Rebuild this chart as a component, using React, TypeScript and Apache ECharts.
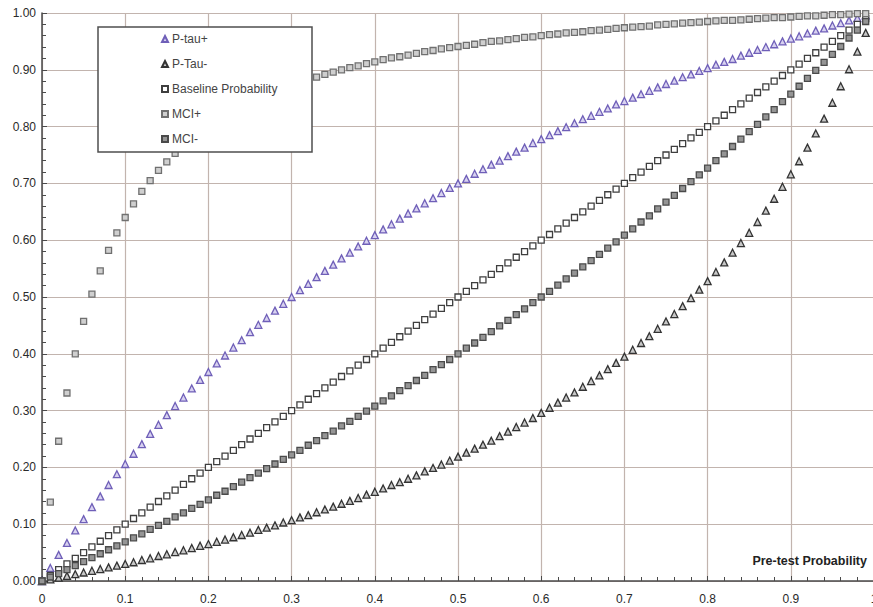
import React, { useEffect, useRef } from "react";
import * as echarts from "echarts";

const pretest = [0,0.01,0.02,0.03,0.04,0.05,0.06,0.07,0.08,0.09,0.1,0.11,0.12,0.13,0.14,0.15,0.16,0.17,0.18,0.19,0.2,0.21,0.22,0.23,0.24,0.25,0.26,0.27,0.28,0.29,0.3,0.31,0.32,0.33,0.34,0.35,0.36,0.37,0.38,0.39,0.4,0.41,0.42,0.43,0.44,0.45,0.46,0.47,0.48,0.49,0.5,0.51,0.52,0.53,0.54,0.55,0.56,0.57,0.58,0.59,0.6,0.61,0.62,0.63,0.64,0.65,0.66,0.67,0.68,0.69,0.7,0.71,0.72,0.73,0.74,0.75,0.76,0.77,0.78,0.79,0.8,0.81,0.82,0.83,0.84,0.85,0.86,0.87,0.88,0.89,0.9,0.91,0.92,0.93,0.94,0.95,0.96,0.97,0.98,0.99];

const pTauPlus = [0,.023,.046,.067,.089,.109,.130,.149,.169,.188,.206,.224,.241,.259,.275,.292,.308,.323,.339,.354,.368,.383,.397,.411,.424,.438,.451,.463,.476,.488,.500,.512,.523,.535,.546,.557,.568,.578,.589,.599,.609,.619,.628,.638,.647,.656,.665,.674,.683,.692,.700,.708,.717,.725,.733,.740,.748,.756,.763,.771,.778,.785,.792,.799,.806,.813,.819,.826,.832,.839,.845,.851,.857,.863,.869,.875,.881,.887,.892,.898,.903,.909,.914,.919,.925,.930,.935,.940,.945,.950,.955,.959,.964,.969,.973,.978,.982,.987,.991,.996];

const pTauMinus = [0,.003,.006,.009,.012,.015,.018,.021,.024,.027,.030,.033,.037,.040,.044,.047,.051,.054,.058,.062,.065,.069,.073,.077,.081,.085,.090,.094,.098,.103,.107,.112,.116,.121,.126,.131,.136,.141,.146,.152,.157,.163,.169,.174,.180,.186,.193,.199,.205,.212,.219,.226,.233,.240,.247,.255,.263,.271,.279,.287,.296,.305,.314,.323,.332,.342,.352,.362,.373,.384,.395,.407,.419,.431,.444,.457,.470,.484,.498,.513,.528,.544,.561,.578,.595,.613,.632,.652,.673,.694,.716,.739,.763,.788,.814,.842,.871,.901,.932,.965];

const baseline = [0,0.01,0.02,0.03,0.04,0.05,0.06,0.07,0.08,0.09,0.1,0.11,0.12,0.13,0.14,0.15,0.16,0.17,0.18,0.19,0.2,0.21,0.22,0.23,0.24,0.25,0.26,0.27,0.28,0.29,0.3,0.31,0.32,0.33,0.34,0.35,0.36,0.37,0.38,0.39,0.4,0.41,0.42,0.43,0.44,0.45,0.46,0.47,0.48,0.49,0.5,0.51,0.52,0.53,0.54,0.55,0.56,0.57,0.58,0.59,0.6,0.61,0.62,0.63,0.64,0.65,0.66,0.67,0.68,0.69,0.7,0.71,0.72,0.73,0.74,0.75,0.76,0.77,0.78,0.79,0.8,0.81,0.82,0.83,0.84,0.85,0.86,0.87,0.88,0.89,0.9,0.91,0.92,0.93,0.94,0.95,0.96,0.97,0.98,0.99];

const mciPlus = [0,.139,.246,.331,.400,.457,.505,.546,.582,.613,.640,.664,.686,.705,.723,.738,.753,.766,.778,.790,.800,.810,.819,.827,.835,.842,.849,.855,.862,.867,.873,.878,.883,.887,.892,.896,.900,.904,.907,.911,.914,.918,.921,.923,.926,.929,.932,.934,.937,.939,.941,.943,.945,.948,.950,.951,.953,.955,.957,.958,.960,.962,.963,.965,.966,.967,.969,.970,.971,.973,.974,.975,.976,.977,.979,.980,.981,.982,.983,.984,.985,.986,.987,.987,.988,.989,.990,.991,.992,.992,.993,.994,.995,.995,.996,.997,.997,.998,.999,.999];

const mciMinus = [0,.007,.013,.020,.027,.034,.041,.048,.055,.062,.069,.076,.083,.091,.098,.105,.113,.120,.128,.135,.143,.151,.158,.166,.174,.182,.190,.198,.206,.214,.222,.230,.239,.247,.256,.264,.273,.281,.290,.299,.308,.317,.326,.335,.344,.353,.362,.372,.381,.390,.400,.410,.419,.429,.439,.449,.459,.469,.479,.490,.500,.510,.521,.532,.542,.553,.564,.575,.586,.597,.609,.620,.632,.643,.655,.667,.679,.691,.703,.715,.727,.740,.752,.765,.778,.791,.804,.817,.830,.844,.857,.871,.885,.899,.913,.927,.941,.956,.970,.985];

const seriesNames = ["P-tau+", "P-Tau-", "Baseline Probability", "MCI+", "MCI-"];
const xAxisTitle = "Pre-test Probability";

const FONT = "'Liberation Sans', Arial, sans-serif";

function pairs(ys: number[]) {
  return pretest.map((x, i) => [x, ys[i]]);
}

export default function App() {
  const ref = useRef<HTMLDivElement>(null);
  useEffect(() => {
    document.body.style.margin = "0";
    if (!ref.current) return;
    const chart = echarts.init(ref.current, undefined, { renderer: "svg" });
    const styles = [
      { symbol: "triangle", size: 7, fill: "#d8d2f0", stroke: "#6f5fb8", data: pTauPlus },
      { symbol: "triangle", size: 7, fill: "#c8c8c8", stroke: "#333333", data: pTauMinus },
      { symbol: "rect", size: 6, fill: "#ffffff", stroke: "#3f3f3f", data: baseline },
      { symbol: "rect", size: 6, fill: "#cfcfcf", stroke: "#707070", data: mciPlus },
      { symbol: "rect", size: 6, fill: "#959595", stroke: "#4a4a4a", data: mciMinus },
    ];
    chart.setOption({
      animation: false,
      backgroundColor: "#ffffff",
      grid: { left: 42, top: 13, width: 832, height: 568, outerBoundsMode: "none", containLabel: false },
      xAxis: {
        type: "value",
        min: 0,
        max: 1,
        interval: 0.1,
        axisLine: { show: true, lineStyle: { color: "#4a4a4a", width: 1.5 } },
        axisTick: { show: true, inside: true, length: 5, lineStyle: { color: "#4a4a4a" } },
        minorTick: { show: true, splitNumber: 5, length: 4, lineStyle: { color: "#4a4a4a" } },
        splitLine: { show: true, lineStyle: { color: "#c2b4ae", width: 1.2 } },
        axisLabel: {
          margin: 12,
          color: "#2a2a2a",
          fontFamily: FONT,
          fontSize: 12,
          formatter: (v: number) => (v === 0 ? "0" : v === 1 ? "1" : v.toFixed(1)),
        },
      },
      yAxis: {
        type: "value",
        min: 0,
        max: 1,
        interval: 0.1,
        axisLine: { show: true, lineStyle: { color: "#4a4a4a", width: 1.5 } },
        axisTick: { show: true, inside: true, length: 5, lineStyle: { color: "#4a4a4a" } },
        minorTick: { show: true, splitNumber: 5, length: 4, lineStyle: { color: "#4a4a4a" } },
        splitLine: { show: true, lineStyle: { color: "#c2b4ae", width: 1.2 } },
        axisLabel: {
          margin: 6,
          color: "#2a2a2a",
          fontFamily: FONT,
          fontSize: 12,
          formatter: (v: number) => v.toFixed(2),
        },
      },
      legend: {
        orient: "vertical",
        left: 161,
        top: 32,
        z: 20,
        itemWidth: 6,
        itemHeight: 6,
        itemGap: 11,
        padding: 0,
        textStyle: { color: "#444444", fontFamily: FONT, fontSize: 12, lineHeight: 14, padding: [0, 0, 0, -1] },
        data: seriesNames,
      },
      graphic: [
        {
          type: "rect",
          z: 15,
          shape: { x: 98, y: 27, width: 214, height: 125 },
          style: { fill: "#ffffff", stroke: "#4f4f4f", lineWidth: 1.5 },
        },
        {
          type: "text",
          z: 15,
          x: 867,
          y: 561,
          style: {
            text: xAxisTitle,
            fill: "#222222",
            font: `bold 12.5px ${FONT}`,
            align: "right",
            verticalAlign: "middle",
          },
        },
      ],
      series: styles.map((s, i) => ({
        name: seriesNames[i],
        type: "scatter",
        symbol: s.symbol,
        symbolSize: s.size,
        data: pairs(s.data),
        itemStyle: { color: s.fill, borderColor: s.stroke, borderWidth: 1.3, opacity: 1 },
        emphasis: { disabled: true },
        clip: false,
      })),
    });
    return () => chart.dispose();
  }, []);
  return <div ref={ref} style={{ width: 873, height: 607 }} />;
}
